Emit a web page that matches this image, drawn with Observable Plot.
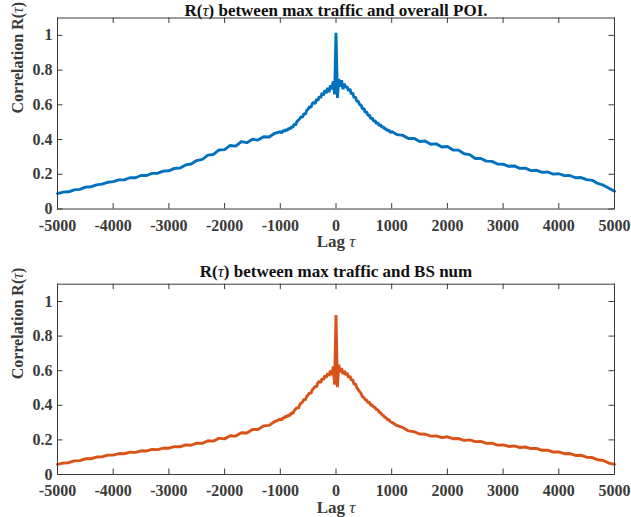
<!DOCTYPE html>
<html>
<head>
<meta charset="utf-8">
<script src="https://cdn.jsdelivr.net/npm/d3@7"></script>
<script src="https://cdn.jsdelivr.net/npm/@observablehq/plot@0.6"></script>
<style>
  html, body { margin: 0; padding: 0; background: #fff; }
  svg { display: block; }
</style>
</head>
<body>
<div id="chart"></div>
<script>
// ---- data ----
const titles = ["R(τ) between max traffic and overall POI.", "R(τ) between max traffic and BS num"];
const xLabel = "Lag τ";
const yLabel = "Correlation R(τ)";
const xTicks = [-5000, -4000, -3000, -2000, -1000, 0, 1000, 2000, 3000, 4000, 5000];
const yTicks = [0, 0.2, 0.4, 0.6, 0.8, 1];

const lags = [
  ...d3.range(-5000, -1000, 100),
  ...d3.range(-1000, 1001, 25),
  ...d3.range(1100, 5001, 100)
];

const poiCorr = [
  // -5000 .. -1100 (step 100)
  0.088, 0.097, 0.099, 0.110, 0.113, 0.126, 0.128, 0.139, 0.143, 0.154,
  0.158, 0.168, 0.168, 0.180, 0.180, 0.193, 0.193, 0.205, 0.206, 0.218,
  0.220, 0.234, 0.236, 0.254, 0.259, 0.279, 0.286, 0.310, 0.314, 0.340,
  0.342, 0.366, 0.362, 0.388, 0.382, 0.402, 0.397, 0.416, 0.415, 0.436,
  // -1000 .. 1000 (step 25)
  0.445, 0.438, 0.452, 0.447, 0.458, 0.451, 0.466, 0.460, 0.474, 0.469,
  0.490, 0.483, 0.505, 0.512, 0.520, 0.532, 0.528, 0.550, 0.545, 0.568,
  0.575, 0.590, 0.585, 0.607, 0.615, 0.605, 0.632, 0.625, 0.648, 0.640,
  0.668, 0.655, 0.685, 0.668, 0.698, 0.672, 0.712, 0.690, 0.735, 0.660,
  1.015,
  0.640, 0.748, 0.705, 0.742, 0.690, 0.722, 0.700, 0.705, 0.680, 0.692,
  0.662, 0.668, 0.640, 0.645, 0.618, 0.622, 0.598, 0.600, 0.575, 0.580,
  0.556, 0.560, 0.538, 0.542, 0.520, 0.525, 0.505, 0.510, 0.492, 0.498,
  0.480, 0.485, 0.470, 0.474, 0.460, 0.462, 0.450, 0.455, 0.440, 0.446,
  // 1100 .. 5000 (step 100)
  0.428, 0.424, 0.406, 0.407, 0.389, 0.392, 0.373, 0.375, 0.357, 0.360,
  0.340, 0.339, 0.318, 0.313, 0.291, 0.291, 0.276, 0.274, 0.259, 0.258,
  0.246, 0.248, 0.234, 0.235, 0.221, 0.223, 0.211, 0.213, 0.201, 0.203,
  0.192, 0.193, 0.180, 0.181, 0.169, 0.165, 0.147, 0.137, 0.120, 0.102
];

const bsCorr = [
  // -5000 .. -1100 (step 100)
  0.058, 0.066, 0.068, 0.079, 0.080, 0.091, 0.091, 0.101, 0.102, 0.112,
  0.112, 0.121, 0.120, 0.129, 0.128, 0.137, 0.136, 0.145, 0.144, 0.153,
  0.152, 0.161, 0.160, 0.171, 0.169, 0.181, 0.180, 0.195, 0.193, 0.210,
  0.206, 0.224, 0.222, 0.241, 0.240, 0.260, 0.260, 0.281, 0.284, 0.306,
  // -1000 .. 1000 (step 25)
  0.320, 0.315, 0.330, 0.325, 0.338, 0.333, 0.345, 0.340, 0.357, 0.352,
  0.370, 0.378, 0.388, 0.382, 0.405, 0.412, 0.420, 0.435, 0.430, 0.452,
  0.460, 0.472, 0.468, 0.490, 0.498, 0.510, 0.505, 0.530, 0.540, 0.530,
  0.555, 0.548, 0.572, 0.560, 0.585, 0.570, 0.600, 0.575, 0.625, 0.520,
  0.922,
  0.505, 0.635, 0.590, 0.615, 0.580, 0.600, 0.575, 0.588, 0.560, 0.570,
  0.545, 0.548, 0.520, 0.525, 0.500, 0.490, 0.478, 0.470, 0.448, 0.445,
  0.432, 0.430, 0.415, 0.418, 0.400, 0.402, 0.390, 0.388, 0.375, 0.374,
  0.360, 0.358, 0.345, 0.342, 0.330, 0.328, 0.316, 0.318, 0.305, 0.302,
  // 1100 .. 5000 (step 100)
  0.282, 0.271, 0.252, 0.248, 0.234, 0.233, 0.222, 0.223, 0.213, 0.218,
  0.207, 0.208, 0.197, 0.200, 0.190, 0.191, 0.180, 0.181, 0.170, 0.171,
  0.162, 0.165, 0.156, 0.159, 0.150, 0.151, 0.140, 0.141, 0.130, 0.131,
  0.120, 0.121, 0.110, 0.111, 0.100, 0.098, 0.085, 0.081, 0.066, 0.058
];

const colors = ["#0072BD", "#D95319"];

// ---- drawing ----
const W = 631;
const FONT = "'Liberation Serif', 'Times New Roman', serif";
const AX = "#3a3a3a";

function panel(values, color, title, {height, marginTop, marginBottom, titleDy}) {
  const marginLeft = 57, marginRight = 17;
  const innerH = height - marginTop - marginBottom;
  const innerW = W - marginLeft - marginRight;
  const T = 5.5;
  const rows = lags.map((l, i) => ({lag: l, r: values[i]}));
  return Plot.plot({
    width: W,
    height,
    marginLeft, marginRight, marginTop, marginBottom,
    style: {fontFamily: FONT, fontWeight: "bold", fontSize: "16px", color: AX, background: "#fff", overflow: "visible"},
    x: {domain: [-5000, 5000], axis: null},
    y: {domain: [0, 1.1], axis: null},
    marks: [
      Plot.line(rows, {x: "lag", y: "r", stroke: color, strokeWidth: 2.9, strokeLinejoin: "miter"}),
      Plot.frame({stroke: AX, strokeWidth: 1}),
      // inward ticks (bottom, top, left, right)
      Plot.tickX(xTicks, {x: d => d, insetTop: innerH - T, stroke: AX}),
      Plot.tickX(xTicks, {x: d => d, insetBottom: innerH - T, stroke: AX}),
      Plot.tickY(yTicks, {y: d => d, insetRight: innerW - T, stroke: AX}),
      Plot.tickY(yTicks, {y: d => d, insetLeft: innerW - T, stroke: AX}),
      Plot.axisX(xTicks, {anchor: "bottom", tickSize: 0, tickPadding: 10.5, tickFormat: d => String(d), label: null, fill: AX, fontSize: 16}),
      Plot.axisY(yTicks, {anchor: "left", tickSize: 0, tickPadding: 5, tickFormat: d => String(d), label: null, fill: AX, fontSize: 16}),
      Plot.text([title], {frameAnchor: "top", dy: titleDy, text: d => d, lineAnchor: "middle", fontSize: 17, fontWeight: "bold", fill: "#111"}),
      Plot.text([xLabel], {frameAnchor: "bottom", dy: 33, text: d => d, lineAnchor: "middle", fontSize: 17, fontWeight: "bold", fill: AX}),
      Plot.text([yLabel], {frameAnchor: "left", dx: -40, text: d => d, rotate: -90, lineAnchor: "middle", fontSize: 16, fontWeight: "bold", fill: AX})
    ]
  });
}

function italicizeTau(svg) {
  const walker = document.createTreeWalker(svg, NodeFilter.SHOW_TEXT);
  const nodes = [];
  while (walker.nextNode()) if (walker.currentNode.nodeValue.includes("τ")) nodes.push(walker.currentNode);
  const ns = "http://www.w3.org/2000/svg";
  for (const node of nodes) {
    const parts = node.nodeValue.split(/(τ)/);
    const frag = document.createDocumentFragment();
    for (const p of parts) {
      if (!p) continue;
      if (p === "τ") {
        const t = document.createElementNS(ns, "tspan");
        t.setAttribute("font-style", "italic");
        t.setAttribute("font-weight", "normal");
        t.textContent = p;
        frag.appendChild(t);
      } else {
        frag.appendChild(document.createTextNode(p));
      }
    }
    node.parentNode.replaceChild(frag, node);
  }
}

const top1 = panel(poiCorr, colors[0], titles[0], {height: 258, marginTop: 17.5, marginBottom: 49.5, titleDy: -7.5});
const bot1 = panel(bsCorr, colors[1], titles[1], {height: 259, marginTop: 25.7, marginBottom: 43, titleDy: -12.7});
italicizeTau(top1);
italicizeTau(bot1);
const root = document.getElementById("chart");
root.appendChild(top1);
root.appendChild(bot1);
</script>
</body>
</html>
